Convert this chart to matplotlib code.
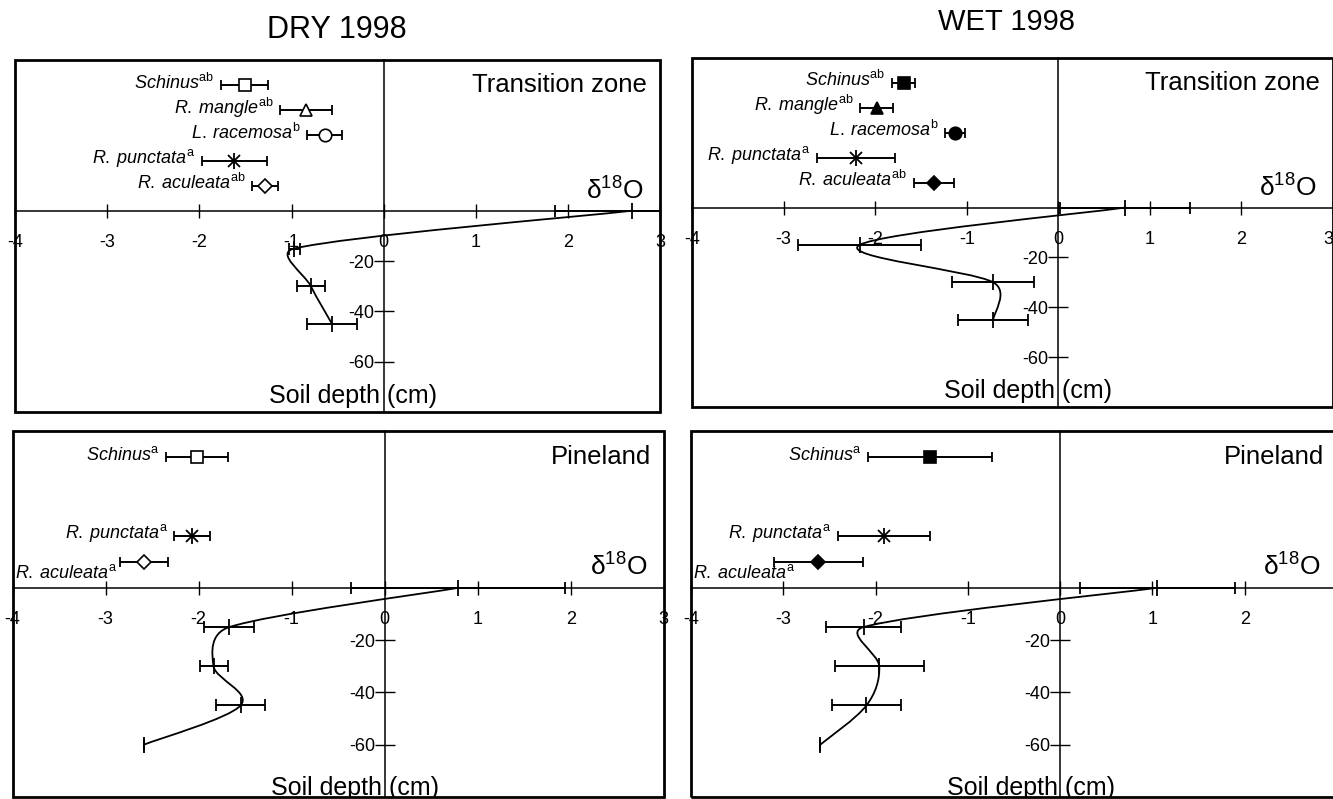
import numpy as np
import matplotlib
matplotlib.use('Agg')
import matplotlib.pyplot as plt
from matplotlib.path import Path
from matplotlib.patches import PathPatch, Rectangle

plt.rcParams['font.family'] = ['Liberation Sans', 'DejaVu Sans']
plt.rcParams['mathtext.fontset'] = 'custom'
plt.rcParams['mathtext.rm'] = 'Liberation Sans'
plt.rcParams['mathtext.it'] = 'Liberation Sans:italic'

# Soil profile (depth in cm, delta 18O, +/- error)
depth_trans = [0, -15, -30, -45]
depth_pine = [0, -15, -30, -45, -60]

dry_trans_soil = [2.69, -0.97, -0.79, -0.56]
dry_trans_soil_err = [0.83, 0.06, 0.15, 0.27]
wet_trans_soil = [0.73, -2.17, -0.71, -0.71]
wet_trans_soil_err = [0.71, 0.67, 0.45, 0.38]
dry_pine_soil = [0.79, -1.67, -1.84, -1.55, -2.59]
dry_pine_soil_err = [1.15, 0.27, 0.15, 0.26, 0.0]
wet_pine_soil = [1.05, -2.13, -1.96, -2.10, -2.60]
wet_pine_soil_err = [0.84, 0.41, 0.48, 0.37, 0.0]

# Plant xylem water
trans_species = ['Schinus', 'R. mangle', 'L. racemosa', 'R. punctata', 'R. aculeata']
trans_rows = [50, 40, 30, 20, 10]
dry_trans_sup = ['ab', 'ab', 'b', 'a', 'ab']
wet_trans_sup = ['ab', 'ab', 'b', 'a', 'ab']
dry_trans_plant = [-1.51, -0.84, -0.64, -1.62, -1.29]
dry_trans_plant_err = [0.26, 0.28, 0.19, 0.35, 0.14]
wet_trans_plant = [-1.69, -1.98, -1.13, -2.21, -1.36]
wet_trans_plant_err = [0.13, 0.18, 0.11, 0.43, 0.22]

pine_species = ['Schinus', 'R. punctata', 'R. aculeata']
pine_rows = [50, 20, 10]
pine_sup = ['a', 'a', 'a']
dry_pine_plant = [-2.02, -2.07, -2.59]
dry_pine_plant_err = [0.33, 0.19, 0.26]
wet_pine_plant = [-1.41, -1.91, -2.62]
wet_pine_plant_err = [0.67, 0.50, 0.48]

markers = {'Schinus': 's', 'R. mangle': '^', 'L. racemosa': 'o',
           'R. punctata': 'star', 'R. aculeata': 'D'}
msizes = {'Schinus': 9, 'R. mangle': 9, 'L. racemosa': 9, 'R. punctata': 10, 'R. aculeata': 7}

x_ticks = [-4, -3, -2, -1, 0, 1, 2, 3]
y_ticks = [-20, -40, -60]


def smooth_path(ax, x, y):
    # Excel-style smoothed line: cubic Bezier, tangents clamped in screen space
    p = ax.transData.transform(np.column_stack([x, y]).astype(float))
    n = len(p)
    verts = [p[0]]
    codes = [Path.MOVETO]
    for i in range(n - 1):
        p0 = p[max(i - 1, 0)]
        p1 = p[i]
        p2 = p[i + 1]
        p3 = p[min(i + 2, n - 1)]
        d12 = np.hypot(*(p2 - p1))
        d02 = np.hypot(*(p2 - p0))
        d13 = np.hypot(*(p3 - p1))
        f1 = 1 / 6.0
        f2 = 1 / 6.0
        if d02 / 6.0 > d12 / 2.0:
            f1 = d12 / d02 / 2.0
        if d13 / 6.0 > d12 / 2.0:
            f2 = d12 / d13 / 2.0
        c1 = p1 + f1 * (p2 - p0)
        c2 = p2 - f2 * (p3 - p1)
        verts += [c1, c2, p2]
        codes += [Path.CURVE4] * 3
    verts = ax.transData.inverted().transform(np.array(verts))
    return Path(verts, codes)


def panel(ax, zone, species, rows, sups, vals, errs, depth, soil, soil_err, filled, low_last, last_label='full'):
    ax.set_xlim(-4, 3)
    ax.set_ylim(-80, 60)
    for s in ['top', 'right']:
        ax.spines[s].set_visible(False)
    ax.spines['left'].set_position('zero')
    ax.spines['bottom'].set_position('zero')
    ax.spines['left'].set_linewidth(1.1)
    ax.spines['bottom'].set_linewidth(1.1)
    ax.add_patch(Rectangle((0, 0), 1, 1, transform=ax.transAxes, fill=False,
                           lw=2, ec='black', clip_on=False, zorder=5))
    ax.set_xticks(x_ticks)
    labels = [str(t) for t in x_ticks]
    if last_label == 'none':
        labels[-1] = ''
    ax.set_xticklabels(labels)
    if last_label == 'inside':
        ax.get_xticklabels()[-1].set_horizontalalignment('right')
    ax.set_yticks(y_ticks)
    ax.set_yticklabels([str(t) for t in y_ticks])
    ax.tick_params(axis='x', direction='inout', length=10, width=1, pad=12, labelsize=13)
    ax.tick_params(axis='y', direction='inout', length=14, width=1, pad=0, labelsize=13)

    # soil profile
    ax.add_patch(PathPatch(smooth_path(ax, soil, depth), fill=False, lw=1.3, ec='black', zorder=3))
    ax.errorbar(soil, depth, xerr=soil_err, fmt='none', ecolor='black',
                elinewidth=1.4, capsize=4, capthick=1.3, zorder=3)
    ax.plot(soil, depth, ls='none', marker='|', ms=11, mew=1.3, color='black', zorder=3)

    # plants
    face = 'black' if filled else 'white'
    for i, sp in enumerate(species):
        ax.errorbar(vals[i], rows[i], xerr=errs[i], fmt='none', ecolor='black',
                    elinewidth=1.4, capsize=3.5, capthick=1.3, zorder=3)
        if markers[sp] == 'star':
            ax.plot(vals[i], rows[i], marker='x', ms=9, mew=1.3, color='black', zorder=4)
            ax.plot(vals[i], rows[i], marker='|', ms=12, mew=1.3, color='black', zorder=4)
        else:
            ax.plot(vals[i], rows[i], marker=markers[sp], ms=msizes[sp], mfc=face,
                    mec='black', mew=1.2, zorder=4)
        label = r'$\mathit{' + sp.replace(' ', r'\:') + r'}^{\mathrm{' + sups[i] + '}}$'
        if low_last and i == len(species) - 1:
            ax.text(-3.98, rows[i] - 4.5, label, ha='left', va='center', fontsize=13)
        else:
            ax.text(vals[i] - errs[i] - 0.07, rows[i] + 1, label, ha='right', va='center', fontsize=13)

    ax.text(2.86, 50, zone, ha='right', va='center', fontsize=18.5)
    ax.text(2.82, 8, r'δ$^{18}$O', ha='right', va='center', fontsize=19)


fig = plt.figure(figsize=(13.33, 7.99), dpi=100)
ax1 = fig.add_axes([0.0113, 0.4844, 0.4839, 0.4406])
ax2 = fig.add_axes([0.5191, 0.4906, 0.4809, 0.4368])
ax3 = fig.add_axes([0.0095, 0.0025, 0.4884, 0.4581])
ax4 = fig.add_axes([0.5184, 0.0025, 0.4846, 0.4581])

panel(ax1, 'Transition zone', trans_species, trans_rows, dry_trans_sup,
      dry_trans_plant, dry_trans_plant_err, depth_trans, dry_trans_soil, dry_trans_soil_err, False, False)
panel(ax2, 'Transition zone', trans_species, trans_rows, wet_trans_sup,
      wet_trans_plant, wet_trans_plant_err, depth_trans, wet_trans_soil, wet_trans_soil_err, True, False,
      last_label='inside')
panel(ax3, 'Pineland', pine_species, pine_rows, pine_sup,
      dry_pine_plant, dry_pine_plant_err, depth_pine, dry_pine_soil, dry_pine_soil_err, False, True)
panel(ax4, 'Pineland', pine_species, pine_rows, pine_sup,
      wet_pine_plant, wet_pine_plant_err, depth_pine, wet_pine_soil, wet_pine_soil_err, True, True,
      last_label='none')

ax1.text(-0.33, -73.5, 'Soil depth (cm)', ha='center', va='center', fontsize=18, clip_on=True)
ax2.text(-0.33, -73.5, 'Soil depth (cm)', ha='center', va='center', fontsize=18, clip_on=True)
ax3.text(-0.32, -76.5, 'Soil depth (cm)', ha='center', va='center', fontsize=18, clip_on=True)
ax4.text(-0.32, -76.5, 'Soil depth (cm)', ha='center', va='center', fontsize=18, clip_on=True)

fig.text(337 / 1333, 1 - 30 / 799, 'DRY 1998', ha='center', va='center', fontsize=22)
fig.text(1007 / 1333, 1 - 22 / 799, 'WET 1998', ha='center', va='center', fontsize=21)

fig.savefig('out.png', dpi=100)
